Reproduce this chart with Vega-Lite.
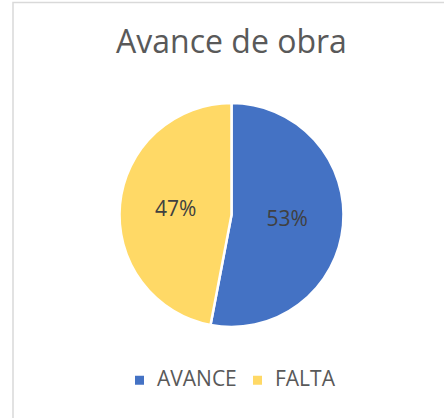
{
  "$schema": "https://vega.github.io/schema/vega-lite/v6.json",
  "autosize": "none",
  "width": 437,
  "height": 425,
  "padding": {"left": 13, "top": 2.5, "right": -6, "bottom": -9.5},
  "background": "white",
  "view": {"stroke": "#D9D9D9", "strokeWidth": 1.5, "fill": "white"},
  "config": {
    "view": {"stroke": "#D9D9D9", "strokeWidth": 1.5},
    "font": "Open Sans"
  },
  "title": {
    "text": "Avance de obra",
    "fontSize": 32,
    "fontWeight": "normal",
    "color": "#595959",
    "anchor": "middle",
    "baseline": "alphabetic",
    "offset": -52.5,
    "dy": 30
  },
  "data": {
    "values": [
      {"categoria": "AVANCE", "valor": 53, "etiqueta": "53%"},
      {"categoria": "FALTA", "valor": 47, "etiqueta": "47%"}
    ]
  },
  "encoding": {
    "theta": {"field": "valor", "type": "quantitative", "stack": true},
    "order": {"field": "categoria", "type": "nominal", "sort": "ascending"}
  },
  "layer": [
    {
      "mark": {"type": "arc", "outerRadius": 112, "stroke": "white", "strokeWidth": 2.5},
      "encoding": {
        "color": {
          "field": "categoria",
          "type": "nominal",
          "scale": {"domain": ["AVANCE", "FALTA"], "range": ["#4472C4", "#FFD966"]},
          "legend": {
            "title": null,
            "orient": "none",
            "legendX": 116,
            "legendY": 367,
            "direction": "horizontal",
            "symbolType": "square",
            "symbolSize": 81,
            "symbolStrokeWidth": 0,
            "labelFontSize": 21,
            "labelColor": "#595959",
            "labelOffset": 7,
            "columnPadding": 10
          }
        }
      }
    },
    {
      "mark": {"type": "text", "radius": 56, "fontSize": 21, "color": "#404040"},
      "encoding": {
        "text": {"field": "etiqueta", "type": "nominal"}
      }
    }
  ]
}
